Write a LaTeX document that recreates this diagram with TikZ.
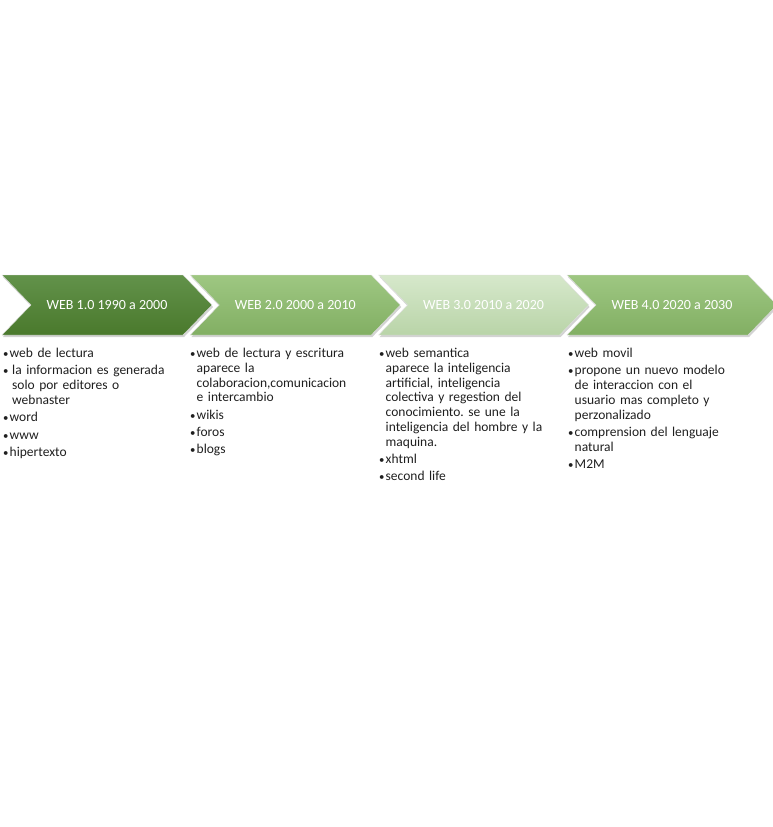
\documentclass[tikz,border=0pt]{standalone}
\usepackage{fontspec}
\setmainfont{Carlito}
\usetikzlibrary{positioning, shapes.symbols, shadows}
\frenchspacing

\definecolor{webdark}{HTML}{4A792C}
\definecolor{webdarktop}{HTML}{62924A}
\definecolor{webmid}{HTML}{82AF63}
\definecolor{webmidtop}{HTML}{9EC782}
\definecolor{webpale}{HTML}{B9D4A8}
\definecolor{webpaletop}{HTML}{D6E8CB}
\newcommand{\itm}[2][6.5pt]{\par\hangindent=#1\hangafter=1\noindent\makebox[#1][l]{\scalebox{0.8}{\textbullet}}#2}

\begin{document}
\begin{tikzpicture}[
		x=1pt, y=-1pt,
		chev/.style={shape=signal, signal to=east, signal from=west, signal pointer angle=92,
			minimum width=210pt, minimum height=60pt, inner sep=0pt,
			draw=white!75!gray, line width=0.4pt, text=white,
			font=\fontsize{14}{16}\selectfont,
			drop shadow={shadow xshift=1pt, shadow yshift=-2pt, opacity=0.35}},
		col/.style={anchor=north west, inner sep=0pt, text width=186pt,
			text=black!88, font={\fontsize{13.5}{14.8}\selectfont\raggedright\setlength{\parskip}{2.5pt}}}
		]
		\useasboundingbox (0,0) rectangle (773,827);
		
		% chevrons
		\node[chev, top color=webdarktop, bottom color=webdark] (w1) at (107,305) {WEB 1.0 1990 a 2000};
		\node[chev, top color=webmidtop, bottom color=webmid] (w2) at (295.3,305) {WEB 2.0 2000 a 2010};
		\node[chev, top color=webpaletop, bottom color=webpale] (w3) at (483.6,305) {WEB 3.0 2010 a 2020};
		\node[chev, top color=webmidtop, bottom color=webmid] (w4) at (672,305) {WEB 4.0 2020 a 2030};
		
		% lists under each chevron
		\node[col] (l1) at (3,340) {%
			\itm{web de lectura}
			\itm[9pt]{la informacion es generada\newline solo por editores o\newline webnaster}
			\itm{word}
			\itm{www}
			\itm{hipertexto}};
		\node[col] (l2) at (190,340) {%
			\itm{web de lectura y escritura\newline aparece la\newline colaboracion,comunicacion\newline e intercambio}
			\itm{wikis}
			\itm{foros}
			\itm{blogs}};
		\node[col] (l3) at (379,340) {%
			\itm{web semantica\newline aparece la inteligencia\newline artificial, inteligencia\newline colectiva y regestion del\newline conocimiento. se une la\newline inteligencia del hombre y la\newline maquina.}
			\itm{xhtml}
			\itm{second life}};
		\node[col] (l4) at (568,340) {%
			\itm{web movil}
			\itm{propone un nuevo modelo\newline de interaccion con el\newline usuario mas completo y\newline perzonalizado}
			\itm{comprension del lenguaje\newline natural}
			\itm{M2M}};
		
	\end{tikzpicture}
\end{document}
